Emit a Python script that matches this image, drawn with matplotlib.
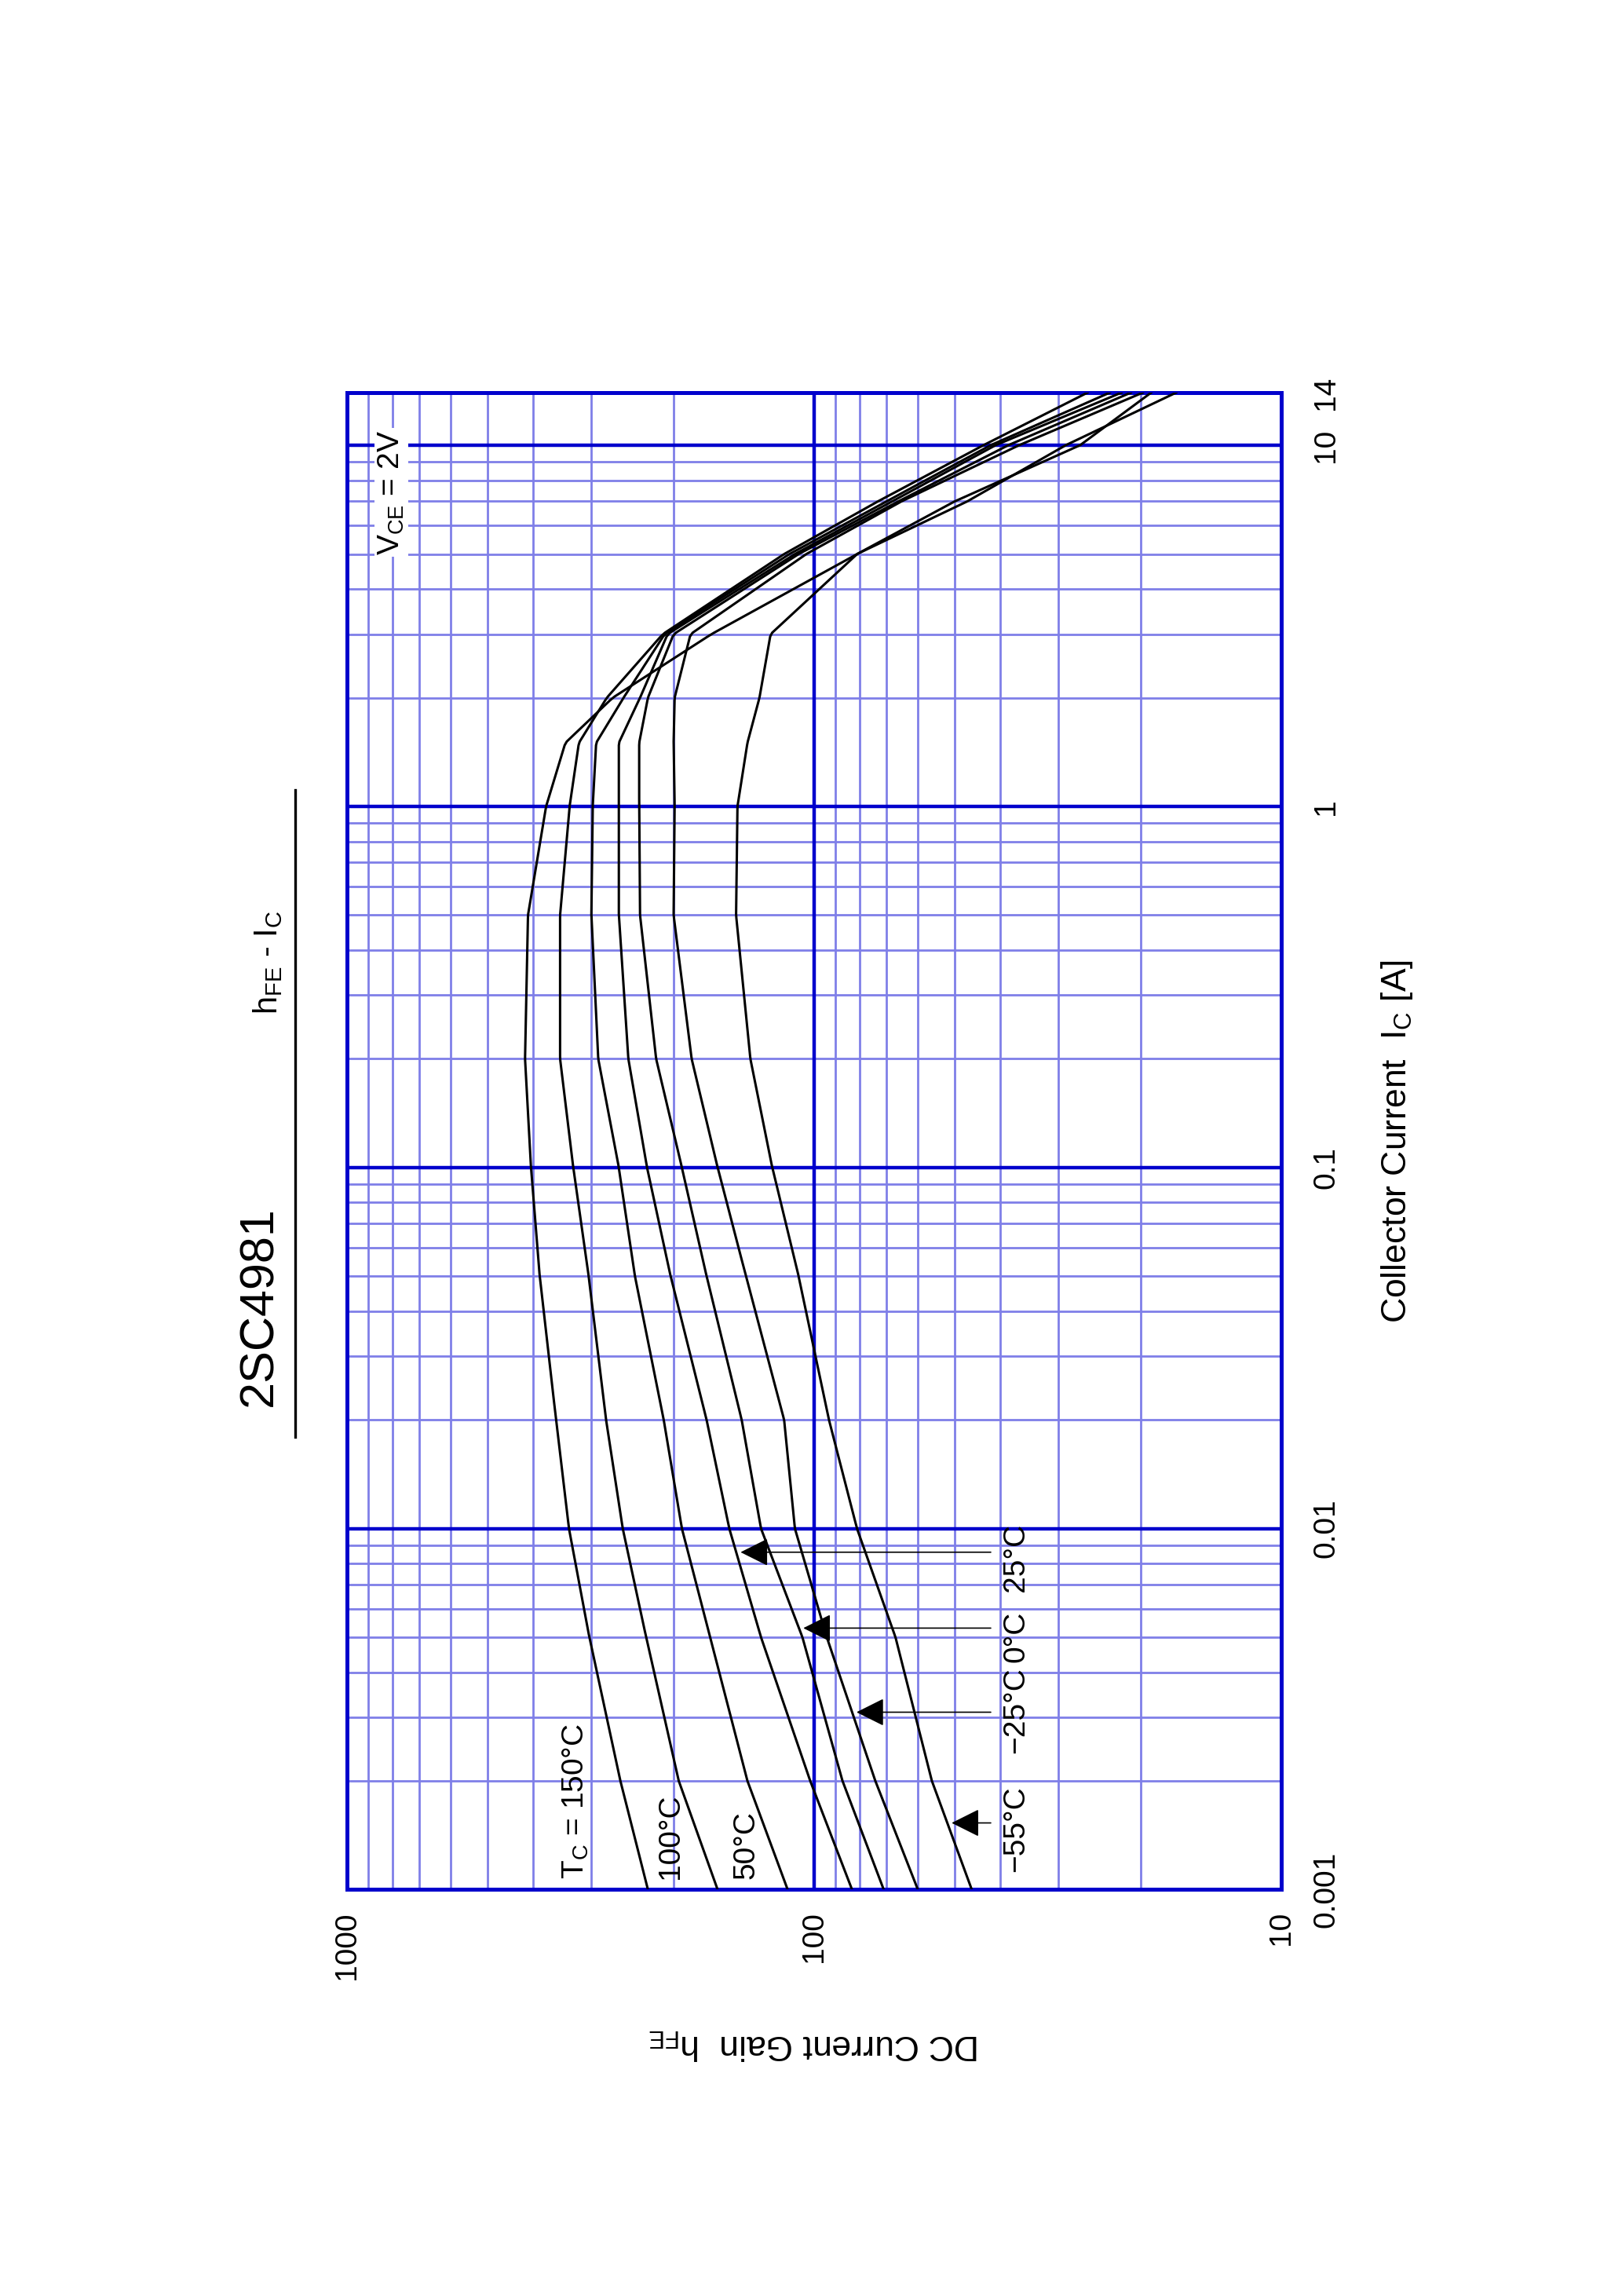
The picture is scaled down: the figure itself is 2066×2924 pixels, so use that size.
import numpy as np
import matplotlib
matplotlib.use('Agg')
import matplotlib.pyplot as plt

plt.rcParams['font.family'] = ['Liberation Sans', 'DejaVu Sans']
plt.rcParams['mathtext.fontset'] = 'custom'
plt.rcParams['mathtext.rm'] = 'Liberation Sans'
plt.rcParams['mathtext.it'] = 'Liberation Sans'

# collector current [A]
ic = [0.001, 0.002, 0.005, 0.01, 0.02, 0.05, 0.1, 0.2, 0.5, 1, 1.5, 2, 3, 5, 7, 10, 14]

# hFE for each case temperature
hfe_150 = [227, 260, 303, 335, 357, 387, 404, 416, 410, 375, 341, 270, 166, 81, 50, 27, 19]
hfe_100 = [161, 195, 229, 257, 279, 304, 328, 350, 350, 334, 319, 278, 211, 116, 73, 43.5, 26]
hfe_50 = [114, 139, 167, 192, 210, 242, 262, 290, 300, 298, 293, 256, 209, 113, 70, 42, 23.3]
hfe_25 = [83, 102, 130, 152, 170, 203, 228, 250, 262, 262, 262, 236, 206, 110, 68, 41, 22]
hfe_0 = [71, 87, 106, 130, 143, 170, 192, 218, 236, 237, 237, 227, 200, 108, 66, 38.5, 21]
hfe_m25 = [60, 74, 94, 110, 116, 140, 161, 183, 200, 199, 200, 199, 184, 104, 65, 36.5, 19.8]
hfe_m55 = [46, 56, 67, 81, 93, 108, 123, 137, 147, 146, 139, 131, 124, 81, 47, 29, 16.8]

curves = [hfe_150, hfe_100, hfe_50, hfe_25, hfe_0, hfe_m25, hfe_m55]

# arrow labels: (text, curve, Ic at arrow, Ic where label starts)
arrow_labels = [('25°C', hfe_25, 0.0086, 0.0067),
                ('0°C', hfe_0, 0.0053, 0.00426),
                ('\u221225°C', hfe_m25, 0.0031, 0.00238),
                ('\u221255°C', hfe_m55, 0.00153, 0.00112)]

W, H = 2066, 2924
fig = plt.figure(figsize=(W / 200, H / 200), dpi=200)
fig.patch.set_facecolor('white')
ax = fig.add_axes([0.214, 0.177, 0.576, 0.652])

major_c = '#0000cc'
minor_c = '#7f7fe8'


def hfe_at(curve, x):
    return 10 ** np.interp(np.log10(x), np.log10(ic), np.log10(curve))


# smooth curves in log-log space
fine = np.logspace(np.log10(ic[0]), np.log10(ic[-1]), 400)
for c in curves:
    ax.plot(hfe_at(c, fine), fine, color='black', lw=1.1, zorder=3)

ax.set_xscale('log')
ax.set_yscale('log')
ax.set_xlim(1000, 10)
ax.set_ylim(0.001, 14)

# grid
for d in [10, 100]:
    for m in range(2, 10):
        ax.axvline(d * m, color=minor_c, lw=1.0, zorder=1)
for d in [0.001, 0.01, 0.1, 1]:
    for m in range(2, 10):
        if d * m <= 14:
            ax.axhline(d * m, color=minor_c, lw=1.0, zorder=1)
ax.axvline(100, color=major_c, lw=1.6, zorder=1)
for v in [0.01, 0.1, 1, 10]:
    ax.axhline(v, color=major_c, lw=1.6, zorder=1)
for s in ax.spines.values():
    s.set_color(major_c)
    s.set_linewidth(1.8)

ax.set_xticks([1000, 100, 10])
ax.set_xticklabels(['1000', '100', '10'])
ax.set_xticks([], minor=True)
ax.set_yticks([0.001, 0.01, 0.1, 1, 10, 14])
ax.set_yticklabels(['0.001', '0.01', '0.1', '1', '10', '14'])
ax.set_yticks([], minor=True)
ax.yaxis.tick_right()
ax.tick_params(axis='both', length=0, labelsize=14)
ax.tick_params(axis='x', rotation=90, pad=10)
ax.tick_params(axis='y', rotation=90, pad=14)
for t in ax.get_yticklabels():
    t.set_va('center')

ax.yaxis.set_label_position('right')
ax.set_ylabel('Collector Current  I$_\\mathrm{C}$ [A]', fontsize=16, rotation=90, labelpad=18)
ax.set_xlabel('DC Current Gain  h$_\\mathrm{FE}$', fontsize=16, rotation=180, labelpad=22)

# temperature labels
ax.text(324, 0.00107, 'T$_\\mathrm{C}$ = 150°C', rotation=90, fontsize=14, ha='center', va='bottom', zorder=4)
ax.text(203, 0.00107, '100°C', rotation=90, fontsize=14, ha='center', va='bottom', zorder=4)
ax.text(140, 0.00107, '50°C', rotation=90, fontsize=14, ha='center', va='bottom', zorder=4)

for txt, c, ia, il in arrow_labels:
    ax.annotate('', xy=(hfe_at(c, ia), ia), xytext=(41, ia),
                arrowprops=dict(arrowstyle='-|>', lw=0.6, color='black', mutation_scale=28), zorder=4)
    ax.text(37, il, txt, rotation=90, fontsize=14, ha='center', va='bottom', zorder=4)

ax.text(805, 7.4, 'V$_\\mathrm{CE}$ = 2V', rotation=90, fontsize=14, ha='center', va='center',
        bbox=dict(facecolor='white', edgecolor='none', pad=1), zorder=4)

# title
fig.text(0.160, 0.431, '2SC4981', rotation=90, fontsize=22, ha='center', va='center')
fig.text(0.165, 0.581, 'h$_\\mathrm{FE}$ - I$_\\mathrm{C}$', rotation=90, fontsize=15, ha='center', va='center')
fig.add_artist(plt.Line2D([0.182, 0.182], [0.374, 0.656], color='black', lw=1.2, transform=fig.transFigure))

fig.savefig('out.png', dpi=200, facecolor='white')
